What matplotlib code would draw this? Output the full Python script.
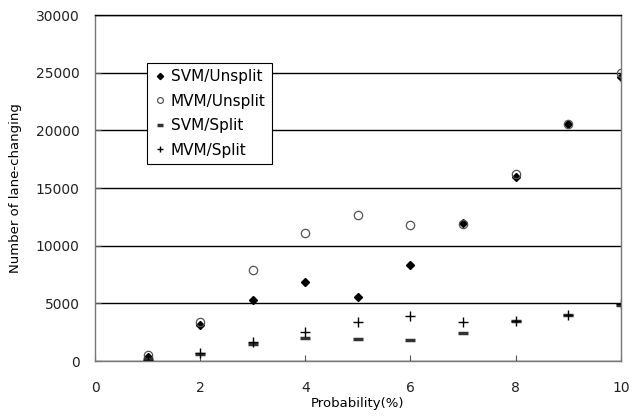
import matplotlib
matplotlib.use("Agg")
import matplotlib.pyplot as plt

prob = [1, 2, 3, 4, 5, 6, 7, 8, 9, 10]
svm_unsplit = [400, 3100, 5300, 6900, 5600, 8300, 12000, 16000, 20600, 24600]
mvm_unsplit = [500, 3400, 7900, 11100, 12700, 11800, 11900, 16200, 20600, 25000]
svm_split = [150, 600, 1500, 2050, 1900, 1800, 2450, 3450, 4000, 4900]
mvm_split = [100, 700, 1650, 2500, 3400, 3900, 3400, 3500, 4000, 4950]
labels = ["SVM/Unsplit", "MVM/Unsplit", "SVM/Split", "MVM/Split"]

plt.rcParams['font.family'] = ['DejaVu Sans']
fig = plt.figure(figsize=(6.42, 4.19), dpi=100)
ax = fig.add_axes([0.148, 0.138, 0.819, 0.826])

ax.plot(prob, svm_unsplit, linestyle='none', marker='D', markersize=4.5,
        color='black', label=labels[0])
ax.plot(prob, mvm_unsplit, linestyle='none', marker='o', markersize=6,
        markerfacecolor='none', markeredgecolor='#555555', markeredgewidth=0.9,
        label=labels[1])
ax.plot(prob, svm_split, linestyle='none', marker='_', markersize=7,
        color='#333333', markeredgewidth=2.5, label=labels[2])
ax.plot(prob, mvm_split, linestyle='none', marker='+', markersize=7,
        color='black', markeredgewidth=1.0, label=labels[3])

ax.set_xlim(0, 10)
ax.set_ylim(0, 30000)
ax.set_xticks([0, 2, 4, 6, 8, 10])
ax.set_yticks(range(0, 30001, 5000))
ax.yaxis.grid(True, color='black', linewidth=1.0)
ax.set_axisbelow(True)
for s in ax.spines.values():
    s.set_color('#777777')
    s.set_linewidth(1.0)
ax.spines['top'].set_color('black')
ax.tick_params(direction='in', length=4, colors='black', labelsize=10,
               color='#555555')
ax.tick_params(axis='x', pad=14)
ax.tick_params(axis='y', pad=11)
for lab in ax.get_xticklabels() + ax.get_yticklabels():
    lab.set_color('#222222')

ax.set_xlabel("Probability(%)", fontsize=9.5, labelpad=2)
ax.set_ylabel("Number of lane-changing", fontsize=9.5, labelpad=10)

leg = ax.legend(loc='upper left', bbox_to_anchor=(0.099, 0.861), frameon=True,
                fancybox=False, edgecolor='black', fontsize=11,
                handlelength=0.9, handletextpad=0.25, borderpad=0.4,
                labelspacing=0.62, framealpha=1, borderaxespad=0,
                markerscale=0.7)
leg.get_frame().set_linewidth(0.8)

fig.savefig("out.png", dpi=100)
